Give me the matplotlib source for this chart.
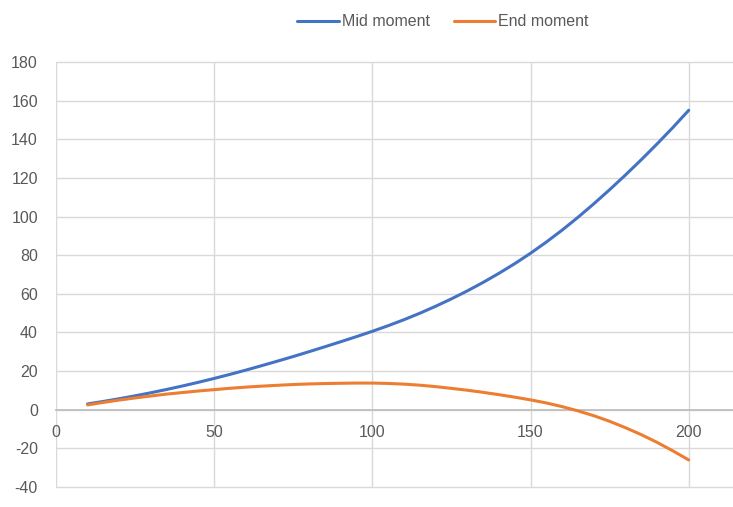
import matplotlib.pyplot as plt

# load values (every 5 units)
load = [10, 15, 20, 25, 30, 35, 40, 45, 50, 55, 60, 65, 70, 75, 80, 85, 90, 95, 100,
        105, 110, 115, 120, 125, 130, 135, 140, 145, 150, 155, 160, 165, 170, 175,
        180, 185, 190, 195, 200]
mid_moment = [3.0, 4.3, 5.7, 7.2, 8.8, 10.5, 12.3, 14.2, 16.2, 18.3, 20.5, 22.8,
              25.15, 27.55, 30.05, 32.6, 35.2, 37.85, 40.6, 43.5, 46.6, 49.95, 53.55,
              57.4, 61.5, 65.9, 70.6, 75.6, 81.0, 86.8, 93.0, 99.6, 106.6, 113.9,
              121.5, 129.4, 137.6, 146.1, 155.0]
end_moment = [2.5, 3.8, 5.0, 6.1, 7.1, 8.1, 8.9, 9.7, 10.4, 11.1, 11.7, 12.2,
              12.65, 13.05, 13.35, 13.55, 13.7, 13.8, 13.8, 13.6, 13.25, 12.7, 11.95,
              11.05, 10.1, 9.0, 7.8, 6.5, 5.1, 3.5, 1.6, -0.6, -3.1, -6.0,
              -9.3, -12.9, -16.9, -21.3, -26.0]
x_ticks = [0, 50, 100, 150, 200]
y_ticks = [-40, -20, 0, 20, 40, 60, 80, 100, 120, 140, 160, 180]

plt.rcParams['font.family'] = ['Liberation Sans', 'DejaVu Sans']
plt.rcParams['font.size'] = 11.5
plt.rcParams['axes.unicode_minus'] = False
txt = '#595959'
grid = '#d9d9d9'

fig = plt.figure(figsize=(7.33, 5.07), dpi=100)
ax = fig.add_axes([56 / 733, 20 / 507, 1 - 56 / 733, 425 / 507])

ax.plot(load, mid_moment, color='#4472C4', lw=2.2, label='Mid moment', solid_capstyle='round')
ax.plot(load, end_moment, color='#ED7D31', lw=2.2, label='End moment', solid_capstyle='round')

ax.set_xlim(0, 214)
ax.set_ylim(-40, 180)
ax.set_xticks(x_ticks)
ax.set_yticks(y_ticks)
ax.grid(True, color=grid, lw=1)
for gl in ax.get_xgridlines() + ax.get_ygridlines():
    gl.set_clip_on(False)
ax.set_axisbelow(True)

for s in ['top', 'right', 'left']:
    ax.spines[s].set_visible(False)
ax.spines['bottom'].set_position(('data', 0))
ax.spines['bottom'].set_color('#bfbfbf')
ax.spines['bottom'].set_linewidth(1.3)
ax.spines['bottom'].set_zorder(1)

ax.tick_params(axis='both', length=0, colors=txt)
ax.tick_params(axis='x', pad=11)
ax.tick_params(axis='y', pad=13)

fig.legend(loc='center', bbox_to_anchor=(443 / 733, 1 - 22 / 507), ncol=2,
           frameon=False, handlelength=2.6, handletextpad=0.2, columnspacing=1.5,
           labelcolor=txt)

fig.savefig('out.png', dpi=100)
